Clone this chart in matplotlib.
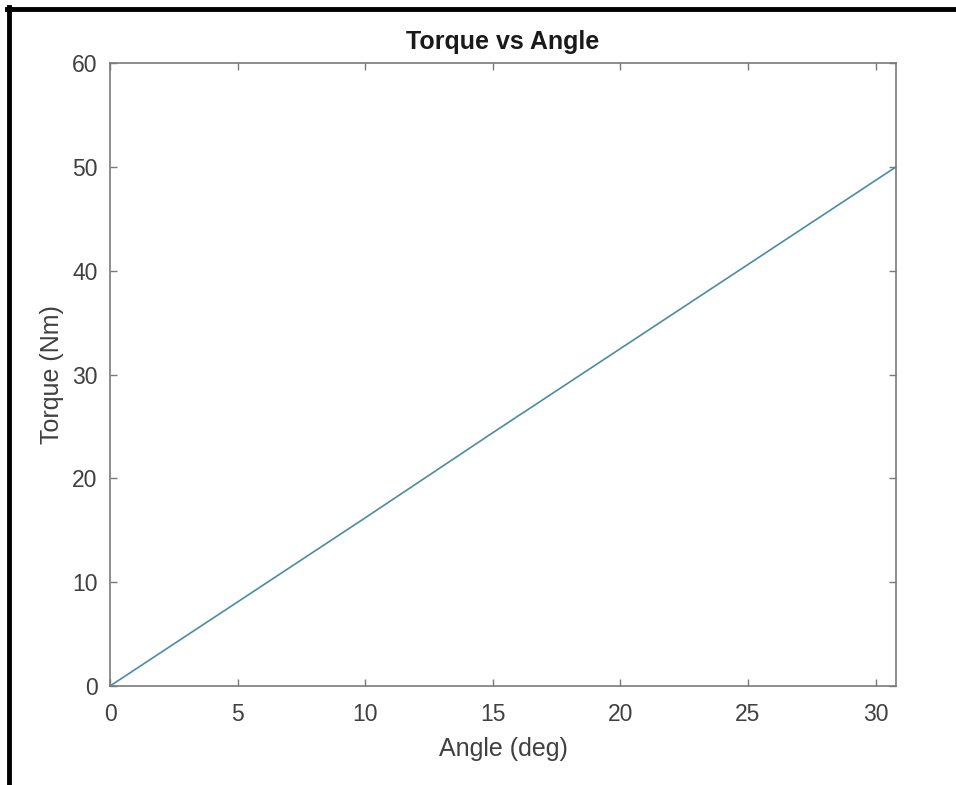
"""
Torque vs angle plot (MATLAB-style figure).
"""
import matplotlib
matplotlib.use("Agg")
import matplotlib.pyplot as plt
from matplotlib.lines import Line2D

matplotlib.rcParams['font.family'] = ['Liberation Sans', 'DejaVu Sans']

# values
angle_deg = [0, 5, 10, 15, 20, 25, 30.8]
torque_nm = [0, 8.1, 16.2, 24.4, 32.5, 40.6, 50.0]

x_ticks = [0, 5, 10, 15, 20, 25, 30]
y_ticks = [0, 10, 20, 30, 40, 50, 60]

LINE_COLOR = "#4a8ca8"
AXIS_COLOR = "#7a7a7a"
TEXT_COLOR = "#404040"


def main():
    fig = plt.figure(figsize=(9.56, 7.85), dpi=100)
    ax = fig.add_axes([0.1151, 0.1261, 0.8222, 0.7936])

    ax.plot(angle_deg, torque_nm, color=LINE_COLOR, linewidth=1.2)

    ax.set_xlim(0, 30.8)
    ax.set_ylim(0, 60)
    ax.set_xticks(x_ticks)
    ax.set_yticks(y_ticks)
    ax.tick_params(direction="in", top=True, right=True, length=5,
                   width=1, color=AXIS_COLOR, labelcolor=TEXT_COLOR,
                   labelsize=16.5)
    ax.tick_params(axis="x", pad=12)
    ax.tick_params(axis="y", pad=9)
    for sp in ax.spines.values():
        sp.set_color(AXIS_COLOR)
        sp.set_linewidth(1.2)

    ax.set_title("Torque vs Angle", fontsize=18, fontweight="bold",
                 color="#1a1a1a", pad=10)
    ax.set_xlabel("Angle (deg)", fontsize=18, color=TEXT_COLOR, labelpad=8)
    ax.set_ylabel("Torque (Nm)", fontsize=18, color=TEXT_COLOR, labelpad=6)

    # black frame lines on top and left edge of the screenshot
    fig.add_artist(Line2D([7 / 956, 1.0], [1 - 9 / 785, 1 - 9 / 785],
                          color="black", linewidth=3.5,
                          transform=fig.transFigure))
    fig.add_artist(Line2D([9 / 956, 9 / 956], [0.0, 1 - 7 / 785],
                          color="black", linewidth=3.5,
                          transform=fig.transFigure))

    fig.savefig("out.png", dpi=100)
    plt.close(fig)


if __name__ == "__main__":
    main()
